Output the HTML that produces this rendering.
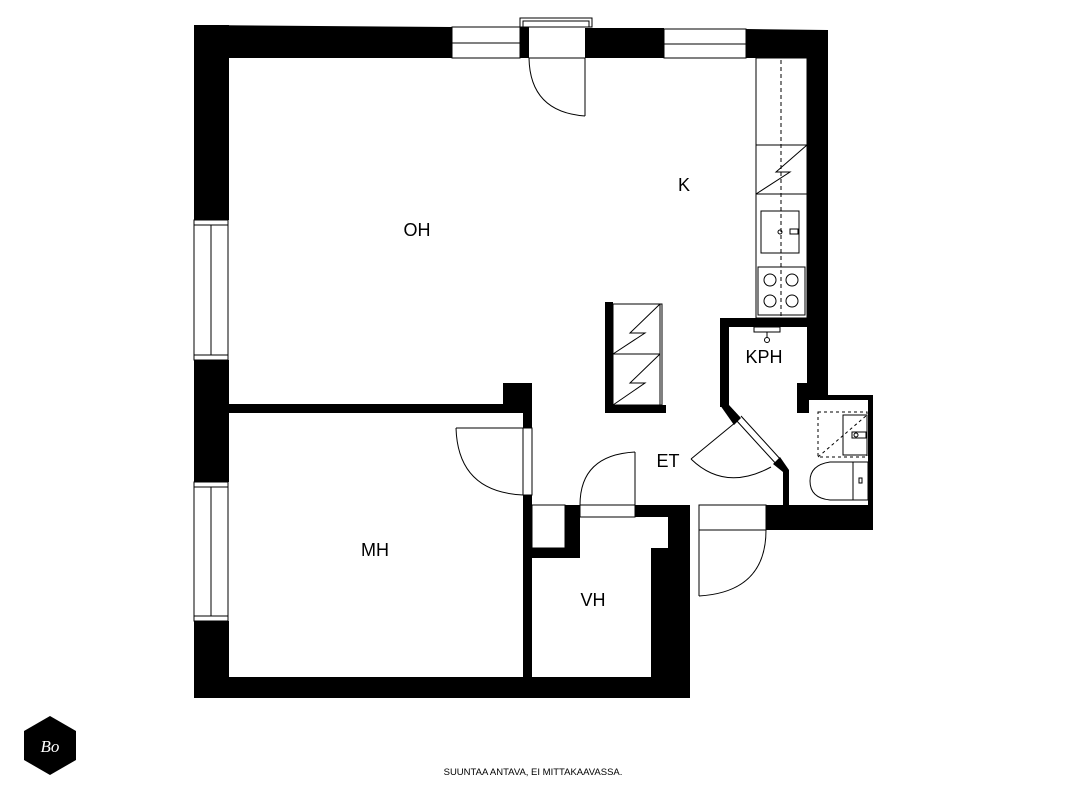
<!DOCTYPE html>
<html><head><meta charset="utf-8"><style>
html,body{margin:0;padding:0;background:#fff;width:1067px;height:800px;overflow:hidden}
text{font-family:"Liberation Sans","DejaVu Sans",sans-serif;fill:#000}
</style></head><body>
<svg width="1067" height="800" viewBox="0 0 1067 800" xmlns="http://www.w3.org/2000/svg">
<g fill="#000" stroke="none">
<polygon points="194,25 452,27 452,58 194,58"/>
<rect x="520" y="27" width="9" height="31"/>
<rect x="585" y="28" width="79" height="30"/>
<polygon points="746,29 828,30 828,58 746,58"/>
<rect x="194" y="25" width="35" height="195"/>
<rect x="194" y="360" width="35" height="122"/>
<rect x="194" y="621" width="35" height="77"/>
<rect x="194" y="677" width="496" height="21"/>
<rect x="807" y="30" width="21" height="370"/>
<rect x="228" y="404" width="304" height="9"/>
<rect x="503" y="383" width="29" height="24"/>
<rect x="523" y="404" width="9" height="24"/>
<rect x="523" y="495" width="9" height="185"/>
<rect x="532" y="548" width="45" height="10"/>
<rect x="565" y="505" width="15" height="53"/>
<rect x="635" y="505" width="33" height="12"/>
<rect x="668" y="505" width="22" height="193"/>
<rect x="651" y="548" width="20" height="150"/>
<rect x="766" y="505" width="107" height="25"/>
<rect x="868" y="395" width="5" height="135"/>
<rect x="828" y="395" width="45" height="5"/>
<rect x="797" y="383" width="12" height="30"/>
<rect x="720" y="318" width="9" height="89"/>
<rect x="720" y="318" width="87" height="9"/>
<polygon points="720,405 729,405 741,418 734,425"/>
<polygon points="773,464 780,457 789,470 789,505 783,505 783,472"/>
<rect x="605" y="302" width="8" height="111"/>
<rect x="605" y="405" width="61" height="8"/>
</g>
<g fill="none" stroke="#000" stroke-width="1">
<rect x="452" y="27" width="68" height="31"/><line x1="452" y1="43" x2="520" y2="43"/>
<rect x="664" y="29" width="82" height="29"/><line x1="664" y1="44" x2="746" y2="44"/>
<rect x="520" y="18" width="72" height="9"/><rect x="523" y="21" width="66" height="6"/>
<rect x="194" y="220" width="34" height="140"/><line x1="211" y1="225" x2="211" y2="355"/><line x1="194" y1="225" x2="228" y2="225"/><line x1="194" y1="355" x2="228" y2="355"/>
<rect x="194" y="482" width="34" height="139"/><line x1="211" y1="487" x2="211" y2="616"/><line x1="194" y1="487" x2="228" y2="487"/><line x1="194" y1="616" x2="228" y2="616"/>
<line x1="585" y1="58" x2="585" y2="116"/>
<path d="M529,58 Q530,112 585,116"/>
<line x1="529" y1="58" x2="585" y2="58"/>
<rect x="756" y="58" width="51" height="260"/>
<line x1="781" y1="60" x2="781" y2="318" stroke-dasharray="4,3"/>
<rect x="756" y="145" width="51" height="49"/>
<polyline points="807,145 776,172 790,172 756,194"/>
<rect x="761" y="211" width="38" height="42"/>
<circle cx="780" cy="232" r="2"/><rect x="790" y="229" width="8" height="5"/>
<rect x="758" y="267" width="47" height="48"/>
<circle cx="770" cy="280" r="6"/><circle cx="792" cy="280" r="6"/><circle cx="770" cy="301" r="6"/><circle cx="792" cy="301" r="6"/>
<rect x="754" y="327" width="26" height="5"/><line x1="767" y1="332" x2="767" y2="338"/><circle cx="767" cy="340" r="2.5"/>
<rect x="613" y="304" width="49" height="101"/>
<line x1="660" y1="304" x2="660" y2="405"/>
<line x1="613" y1="354" x2="660" y2="354"/>
<polyline points="660,304 630,333 645,333 613,354"/>
<polyline points="660,354 630,383 645,383 613,405"/>
<rect x="523" y="428" width="9" height="67"/>
<line x1="456" y1="428" x2="523" y2="428"/>
<path d="M456,428 Q458,492 523,495"/>
<rect x="532" y="505" width="33" height="43"/>
<rect x="580" y="505" width="55" height="12"/>
<line x1="635" y1="452" x2="635" y2="505"/>
<path d="M580,505 Q580,455 635,452"/>
<rect x="699" y="505" width="67" height="25"/>
<line x1="699" y1="530" x2="699" y2="596"/>
<path d="M766,530 Q766,592 699,596"/>
<line x1="736" y1="420" x2="778" y2="466"/><line x1="741" y1="416" x2="782" y2="461"/>
<line x1="736" y1="422" x2="691" y2="459"/>
<path d="M691,459 Q725,492 771,467"/>
<rect x="818" y="412" width="49" height="45" stroke-dasharray="3,3"/>
<line x1="818" y1="457" x2="867" y2="415" stroke-dasharray="3,3"/>
<rect x="843" y="415" width="24" height="40"/>
<rect x="852" y="432" width="14" height="6"/><circle cx="856" cy="435" r="2"/>
<path d="M853,462 L830,462 Q810,465 810,481 Q810,498 830,500 L853,500 Z"/>
<rect x="853" y="462" width="15" height="38"/>
<rect x="859" y="478" width="3" height="5"/>
</g>
<g font-size="18" text-anchor="middle">
<text x="417" y="236">OH</text>
<text x="684" y="191">K</text>
<text x="764" y="363">KPH</text>
<text x="668" y="467">ET</text>
<text x="375" y="556">MH</text>
<text x="593" y="606">VH</text>
</g>
<polygon points="50,716 76,731 76,760 50,775 24,760 24,731" fill="#000"/>
<text x="50" y="752" font-size="17" text-anchor="middle" style="fill:#fff;font-family:'Liberation Serif',serif;font-style:italic">Bo</text>
<text x="533" y="775" font-size="9.5" text-anchor="middle">SUUNTAA ANTAVA, EI MITTAKAAVASSA.</text>
</svg>
</body></html>
